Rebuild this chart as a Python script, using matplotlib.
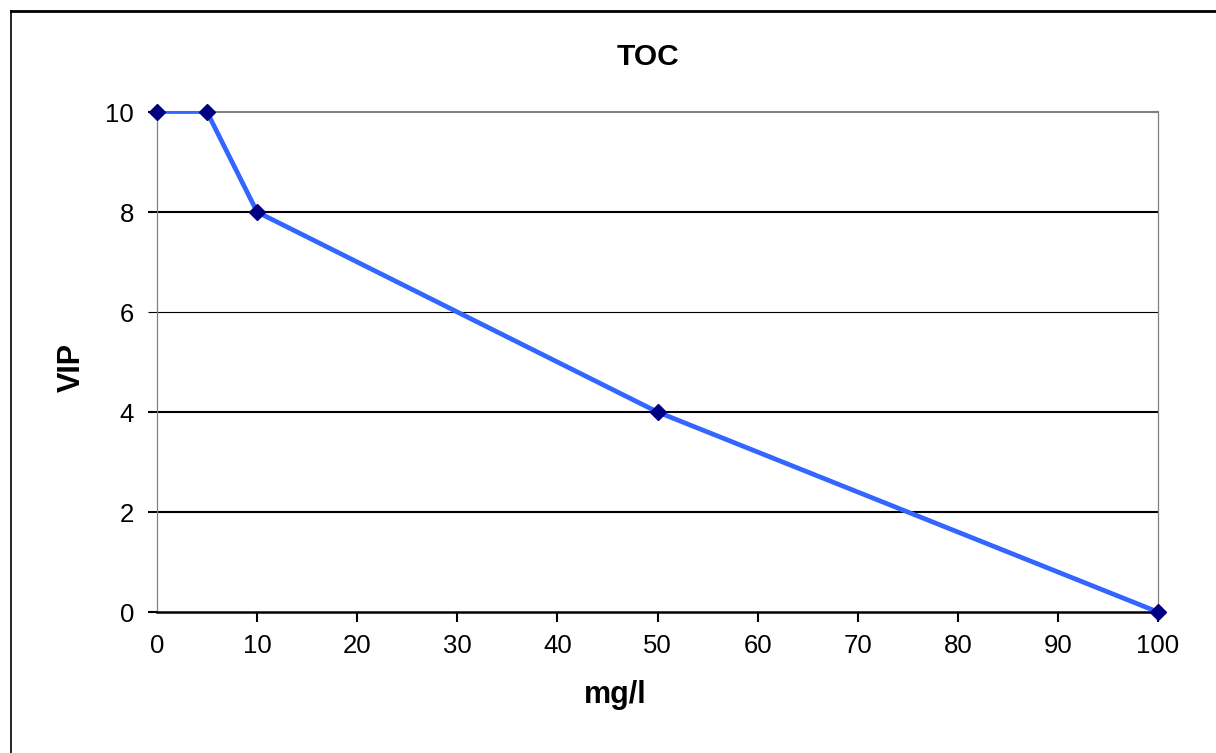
import matplotlib

matplotlib.use("Agg")
import matplotlib.pyplot as plt
from matplotlib.lines import Line2D

plt.rcParams["font.family"] = ["Liberation Sans", "DejaVu Sans"]

# TOC concentration (mg/l) -> VIP score
toc_mgl = [0, 5, 10, 50, 100]
vip = [10, 10, 8, 4, 0]
x_ticks = [0, 10, 20, 30, 40, 50, 60, 70, 80, 90, 100]
y_ticks = [0, 2, 4, 6, 8, 10]

W, H = 1216, 753
fig = plt.figure(figsize=(W / 100, H / 100), dpi=100)
ax = fig.add_axes([157 / W, 1 - 612 / H, (1158 - 157) / W, (612 - 112) / H])

line_color = "#3366ff"
marker_color = "#000080"

# first flat segment renders thinner in the original
ax.plot(toc_mgl[:2], vip[:2], color=line_color, linewidth=2.0, zorder=3, clip_on=False)
ax.plot(toc_mgl[1:], vip[1:], color=line_color, linewidth=3.4, zorder=3, clip_on=False)
ax.plot(toc_mgl, vip, linestyle="none", marker="D", markersize=8.5,
        color=marker_color, zorder=4, clip_on=False)

ax.set_xlim(0, 100)
ax.set_ylim(0, 10)
ax.set_xticks(x_ticks)
ax.set_yticks(y_ticks)
ax.tick_params(axis="x", direction="out", length=7, width=1.5, pad=9,
               labelsize=18.5, colors="black")
ax.tick_params(axis="y", direction="out", length=6.5, width=1.5, pad=10,
               labelsize=18.5, colors="black")
ax.xaxis.get_major_ticks()[0].tick1line.set_visible(False)

ax.yaxis.grid(True, color="black", linewidth=1.5)
ax.set_axisbelow(True)
for val, gl in zip(y_ticks, ax.yaxis.get_gridlines()):
    if val == 6:
        gl.set_linewidth(0.8)
    if val in (0, 10):
        gl.set_visible(False)
for val, tk in zip(y_ticks, ax.yaxis.get_major_ticks()):
    if val == 6:
        tk.tick1line.set_markeredgewidth(0.8)

ax.spines["left"].set_color("#808080")
ax.spines["left"].set_linewidth(0.9)
ax.spines["right"].set_color("#808080")
ax.spines["right"].set_linewidth(0.9)
ax.spines["top"].set_color("#808080")
ax.spines["top"].set_linewidth(1.5)
ax.spines["bottom"].set_color("black")
ax.spines["bottom"].set_linewidth(1.8)

fig.text(648 / W, 1 - 57 / H, "TOC", ha="center", va="center",
         fontsize=21.5, fontweight="bold")
fig.text(615 / W, 1 - 695 / H, "mg/l", ha="center", va="center",
         fontsize=22, fontweight="bold")
fig.text(72 / W, 1 - 367 / H, "VIP", ha="center", va="center",
         fontsize=22, fontweight="bold", rotation=90)

# chart-area border (only top and left are inside the crop)
fig.add_artist(Line2D([11 / W, 1.0], [1 - 11 / H, 1 - 11 / H],
                      transform=fig.transFigure, color="black", linewidth=2.0))
fig.add_artist(Line2D([11 / W, 11 / W], [1 - 11 / H, 0.0],
                      transform=fig.transFigure, color="black", linewidth=1.2))

fig.savefig("out.png", dpi=100)
plt.close(fig)
